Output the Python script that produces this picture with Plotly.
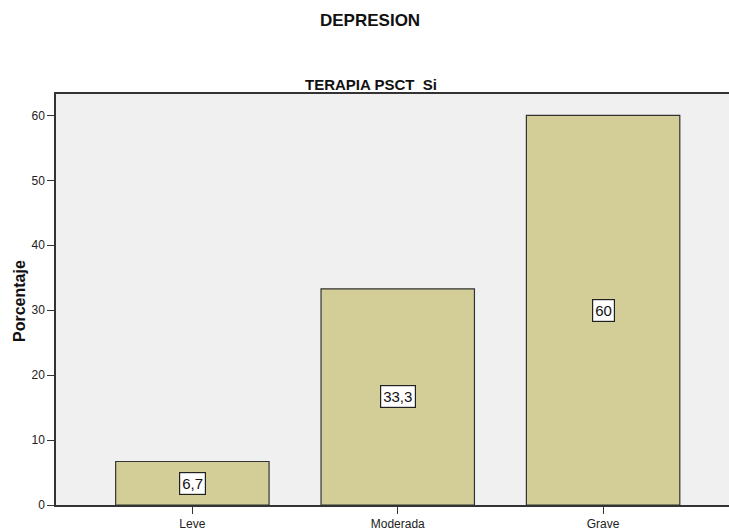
import plotly.graph_objects as go

categories = ["Leve", "Moderada", "Grave"]
percentages = [6.7, 33.3, 60.0]
value_labels = ["6,7", "33,3", "60"]
y_ticks = [0, 10, 20, 30, 40, 50, 60]

BAR_COLOR = "#d3ce97"
PLOT_BG = "#f0f0f0"
FONT = "Liberation Sans, Arial, sans-serif"

FIG_W, FIG_H = 729, 532
M_L, M_R, M_T, M_B = 56, 0, 94, 27
PLOT_W = FIG_W - M_L - M_R
PLOT_H = FIG_H - M_T - M_B


def px_to_paper(x_img, y_img):
    """Screen pixel -> paper coordinates."""
    x = (x_img - M_L) / PLOT_W
    y = (FIG_H - M_B - y_img) / PLOT_H
    return x, y


fig = go.Figure()
fig.add_trace(
    go.Bar(
        x=list(range(len(categories))),
        y=percentages,
        width=0.747,
        marker={"color": BAR_COLOR, "line": {"color": "#333333", "width": 1.2}},
        hoverinfo="skip",
        showlegend=False,
    )
)

# value boxes in the middle of each bar
for i, (value, label) in enumerate(zip(percentages, value_labels)):
    fig.add_annotation(
        x=i,
        y=value / 2,
        xref="x",
        yref="y",
        text=label,
        showarrow=False,
        font={"family": FONT, "size": 15, "color": "#111111"},
        bgcolor="#ffffff",
        bordercolor="#222222",
        borderwidth=1.2,
        borderpad=2,
    )

for text, (xi, yi), size, angle in [
    ("<b>DEPRESION</b>", (370, 20), 17, 0),
    ("<b>TERAPIA PSCT  Si</b>", (371, 84), 15, 0),
    ("<b>Porcentaje</b>", (19, 301), 16, -90),
]:
    xp, yp = px_to_paper(xi, yi)
    fig.add_annotation(
        x=xp, y=yp, xref="paper", yref="paper", text=text, showarrow=False,
        xanchor="center", yanchor="middle", textangle=angle,
        font={"family": FONT, "size": size, "color": "#111111"},
    )

fig.update_xaxes(
    range=[-0.664, 2.613],
    tickmode="array",
    tickvals=list(range(len(categories))),
    ticktext=categories,
    ticks="outside",
    ticklen=7,
    tickcolor="#333333",
    showline=True,
    linecolor="#333333",
    linewidth=1.5,
    mirror=True,
    showgrid=False,
    zeroline=False,
    tickfont={"family": FONT, "size": 12, "color": "#222222"},
)
fig.update_yaxes(
    range=[0, 63.3],
    tickmode="array",
    tickvals=y_ticks,
    ticks="outside",
    ticklen=7,
    tickcolor="#333333",
    showline=True,
    linecolor="#333333",
    linewidth=1.5,
    showgrid=False,
    zeroline=False,
    tickfont={"family": FONT, "size": 12, "color": "#222222"},
)
fig.update_layout(
    width=FIG_W,
    height=FIG_H,
    plot_bgcolor=PLOT_BG,
    paper_bgcolor="#ffffff",
    margin={"l": M_L, "r": M_R, "t": M_T, "b": M_B},
)

# hide scrollbars first, then drop the default page margin so the figure fills the window
fig.write_html(
    "out.html",
    config={"displayModeBar": False},
    post_script=(
        "document.documentElement.style.overflow='hidden';"
        "document.body.style.overflow='hidden';"
        "document.body.style.margin='0';"
        "void document.body.offsetHeight;"
        "window.scrollTo(0,0);"
        "window.dispatchEvent(new Event('resize'));"
    ),
)
